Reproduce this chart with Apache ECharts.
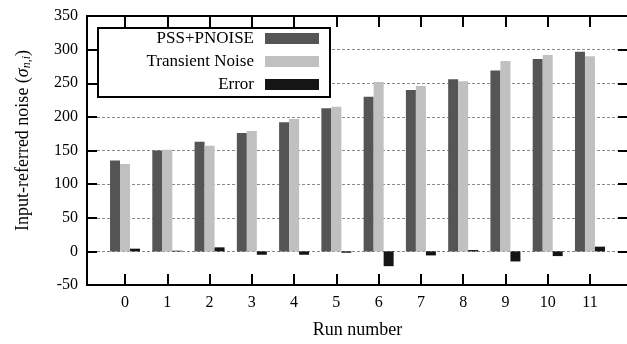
<!DOCTYPE html>
<html>
<head>
<meta charset="utf-8">
<script src="https://cdn.jsdelivr.net/npm/echarts@6/dist/echarts.min.js"></script>
<style>html,body{margin:0;padding:0;background:#fff;}#c{width:627px;height:344px;}</style>
</head>
<body>
<div id="c"></div>
<script>
const runs = [0, 1, 2, 3, 4, 5, 6, 7, 8, 9, 10, 11];
const pssPnoise = [135, 150, 163, 176, 192, 213, 230, 240, 256, 269, 286, 297];
const transientNoise = [130, 151, 157, 179, 197, 215, 252, 246, 253, 283, 292, 290];
const errorVals = [4, 1, 6, -5, -5, -2, -22, -6, 2, -15, -7, 7];

const FONT = '"Liberation Serif", "DejaVu Serif", serif';
const TICK = 'black';
const pair = (arr) => runs.map((r, i) => [r, arr[i]]);

function axLine() { return {show: true, onZero: false, lineStyle: {color: '#000', width: 2}}; }
function xTick() { return {show: true, inside: true, length: 11, customValues: runs.slice(), lineStyle: {color: TICK, width: 2}}; }
function yTick() { return {show: true, inside: true, length: 10, lineStyle: {color: TICK, width: 2}}; }
function legendFor(name, top) {
  return {
    data: [name], top: top, right: 308, orient: 'horizontal', align: 'right', padding: 0,
    itemWidth: 54, itemHeight: 11, icon: 'rect', z: 10, selectedMode: false,
    textStyle: {fontFamily: FONT, fontSize: 17, color: '#000', padding: [0, 6, 0, 0]}
  };
}

const chart = echarts.init(document.getElementById('c'));
chart.setOption({
  animation: false,
  backgroundColor: '#fff',
  grid: {left: 87, top: 16, width: 541, height: 269, outerBoundsMode: 'none'},
  xAxis: [
    {
      type: 'value', min: -0.9, max: 11.9, position: 'bottom',
      axisLine: axLine(), axisTick: xTick(), splitLine: {show: false},
      axisLabel: {show: true, customValues: runs.slice(), margin: 10, fontFamily: FONT, fontSize: 16, color: '#000'},
      name: 'Run number', nameLocation: 'middle', nameGap: 36,
      nameTextStyle: {fontFamily: FONT, fontSize: 18, color: '#000'}
    },
    {
      type: 'value', min: -0.9, max: 11.9, position: 'top',
      axisLine: axLine(), axisTick: xTick(), splitLine: {show: false}, axisLabel: {show: false}
    }
  ],
  yAxis: [
    {
      type: 'value', min: -50, max: 350, interval: 50, position: 'left',
      axisLine: axLine(), axisTick: yTick(),
      axisLabel: {show: true, margin: 9, fontFamily: FONT, fontSize: 16, color: '#000'},
      splitLine: {show: true, lineStyle: {color: '#8a8a8a', width: 1, type: [3, 2]}},
      name: 'Input-referred noise ({s|σ}{sub|n,i})', nameLocation: 'middle', nameGap: 54,
      nameTextStyle: {
        fontFamily: FONT, fontSize: 18, color: '#000', padding: [0, 0, 0, 20],
        rich: {
          s: {fontFamily: FONT, fontSize: 18, fontStyle: 'italic', color: '#000'},
          sub: {fontFamily: FONT, fontSize: 12, fontStyle: 'italic', color: '#000', verticalAlign: 'bottom', padding: [8, 0, 0, 0]}
        }
      }
    },
    {
      type: 'value', min: -50, max: 350, interval: 50, position: 'right',
      axisLine: axLine(), axisTick: yTick(), axisLabel: {show: false}, splitLine: {show: false}
    }
  ],
  legend: [
    legendFor('PSS+PNOISE', 30),
    legendFor('Transient Noise', 53),
    legendFor('Error', 76)
  ],
  graphic: [{
    type: 'rect', z: 5, left: 97, top: 27,
    shape: {width: 232, height: 69},
    style: {fill: '#fff', stroke: '#000', lineWidth: 2}
  }],
  series: [
    {name: 'PSS+PNOISE', type: 'bar', data: pair(pssPnoise), barWidth: 10, barGap: '0%', itemStyle: {color: '#555555'}},
    {name: 'Transient Noise', type: 'bar', data: pair(transientNoise), barWidth: 10, barGap: '0%', itemStyle: {color: '#c0c0c0'}},
    {name: 'Error', type: 'bar', data: pair(errorVals), barWidth: 10, barGap: '0%', itemStyle: {color: '#151515'}}
  ]
});
</script>
</body>
</html>
